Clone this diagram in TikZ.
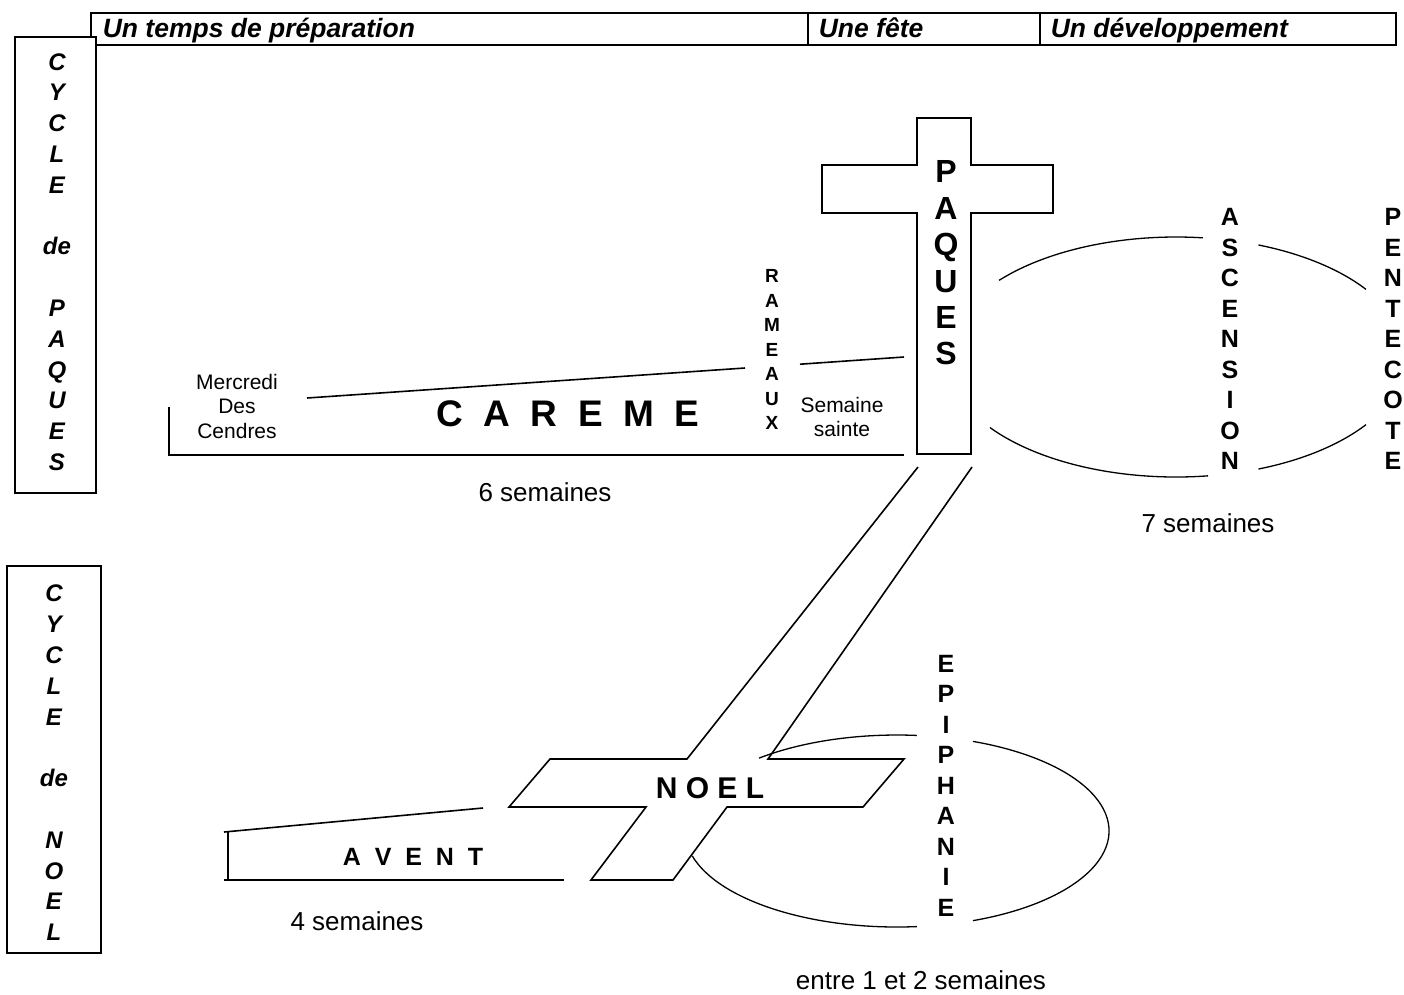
\documentclass[tikz,border=0pt]{standalone}
\usepackage{fontspec}
\setmainfont{Liberation Sans}
\newcommand\myfs[2]{\fontsize{#1pt}{#2pt}\selectfont}
\begin{document}
\begin{tikzpicture}[x=1pt,y=1pt,line width=1.6pt,line join=miter,
  lbl/.style={inner sep=0pt,align=center},
  head/.style={anchor=base west,inner sep=0pt,font=\bfseries\itshape\myfs{26.5}{30}},
  cyc/.style={lbl,font=\bfseries\itshape\myfs{24}{30.8}},
  small/.style={lbl,font=\myfs{21}{24.5}},
  dur/.style={lbl,font=\myfs{26}{30}},
  vert/.style={lbl,font=\bfseries\myfs{25}{30.5}},
  arcline/.style={line width=1.3pt}]
\useasboundingbox[fill=white] (0,0) rectangle (1404,-994);

% header
\draw (91,-13) rectangle (1396,-45);
\draw (808,-13) -- (808,-45);
\draw (1040,-13) -- (1040,-45);
\node[head] (h1) at (102,-37) {Un temps de préparation};
\node[head] (h2) at (818,-37) {Une fête};
\node[head] (h3) at (1050,-37) {Un développement};

% cycle boxes
\draw[fill=white] (15,-37) rectangle (96,-493);
\node[cyc] (cp) at (57,-262) {C\\Y\\C\\L\\E\\~\\de\\~\\P\\A\\Q\\U\\E\\S};
\draw[fill=white] (7,-566) rectangle (101,-953);
\node[cyc] (cn) at (54,-763) {C\\Y\\C\\L\\E\\~\\de\\~\\N\\O\\E\\L};

% careme
\draw (169,-407) -- (169,-455) -- (904,-455);
\draw (307,-398) -- (745,-368);
\draw (800,-364.2) -- (904,-357);
\node[small] (mdc) at (237,-406) {Mercredi\\Des\\Cendres};
\node[lbl,font=\bfseries\myfs{37}{40}] (careme) at (568,-414) {C\ \ A\ \ R\ \ E\ \ M\ \ E};
\node[lbl,font=\bfseries\myfs{19}{24.5}] (rameaux) at (772,-349.5) {R\\A\\M\\E\\A\\U\\X};
\node[small] (ss) at (842,-417) {Semaine\\sainte};
\node[dur] (d6) at (545,-492) {6 semaines};

% Paques cross
\draw[fill=white] (917,-118) -- (971,-118) -- (971,-165) -- (1053,-165) -- (1053,-213)
  -- (971,-213) -- (971,-454) -- (917,-454) -- (917,-213) -- (822,-213) -- (822,-165)
  -- (917,-165) -- cycle;
\node[lbl,font=\bfseries\myfs{32}{36.4}] (paques) at (946,-263) {P\\A\\Q\\U\\E\\S};

% Ascension ellipse
\coordinate (ea) at (1176,-357);
\draw[arcline] (ea) ++(140.3:230pt and 120pt) arc[start angle=140.3,end angle=83.3,x radius=230pt,y radius=120pt];
\draw[arcline] (ea) ++(69:230pt and 120pt) arc[start angle=69,end angle=34.3,x radius=230pt,y radius=120pt];
\draw[arcline] (ea) ++(216:230pt and 120pt) arc[start angle=216,end angle=278,x radius=230pt,y radius=120pt];
\draw[arcline] (ea) ++(291:230pt and 120pt) arc[start angle=291,end angle=325.7,x radius=230pt,y radius=120pt];
\node[vert] (asc) at (1230,-339) {A\\S\\C\\E\\N\\S\\I\\O\\N};
\node[vert] (pent) at (1393,-339) {P\\E\\N\\T\\E\\C\\O\\T\\E};
\node[dur] (d7) at (1208,-523) {7 semaines};

% band and Noel cross
\draw (918,-467) -- (687,-759) -- (550,-759) -- (509,-807) -- (646,-807) -- (591,-880)
  -- (673,-880) -- (727,-807) -- (863,-807) -- (904,-759) -- (768,-759) -- (972,-467);
\node[lbl,font=\bfseries\myfs{30}{34}] (noel) at (710,-788) {N O E L};

% Epiphanie ellipse
\coordinate (ee) at (897,-831);
\draw[arcline] (ee) ++(130.6:212pt and 96pt) arc[start angle=130.6,end angle=84.6,x radius=212pt,y radius=96pt];
\draw[arcline] (ee) ++(69:212pt and 96pt) arc[start angle=69,end angle=-69,x radius=212pt,y radius=96pt];
\draw[arcline] (ee) ++(195:212pt and 96pt) arc[start angle=195,end angle=275.4,x radius=212pt,y radius=96pt];
\node[vert] (epi) at (946,-785.5) {E\\P\\I\\P\\H\\A\\N\\I\\E};
\node[dur] (d12) at (921,-980) {entre 1 et 2 semaines};

% Avent
\draw (224,-832) -- (483,-808);
\draw (228,-832) -- (228,-880);
\draw (224,-880) -- (564,-880);
\node[lbl,font=\bfseries\myfs{25}{30}] (avent) at (413,-857) {A\ \ V\ \ E\ \ N\ \ T};
\node[dur] (d4) at (357,-921) {4 semaines};
\end{tikzpicture}
\end{document}
